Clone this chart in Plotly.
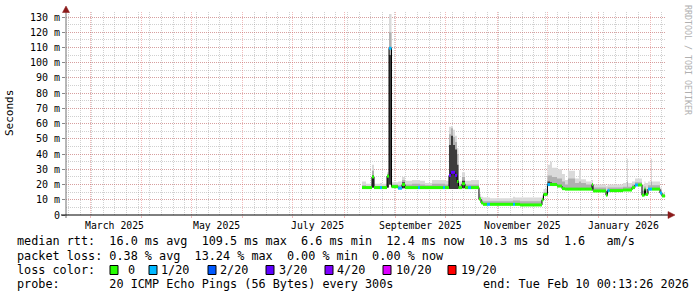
import plotly.graph_objects as go

# ---------------- data ----------------
dates = [
    "2025-08-11 16:00", "2025-08-14 01:00", "2025-08-17 16:00", "2025-08-18 21:00",
    "2025-08-22 12:00", "2025-08-23 17:00", "2025-08-26 17:00", "2025-08-27 22:00",
    "2025-08-29 10:00", "2025-09-02 08:00", "2025-09-04 18:00", "2025-09-06 13:00",
    "2025-09-10 18:00", "2025-09-14 08:00", "2025-09-15 13:00", "2025-09-18 13:00",
    "2025-09-22 19:00", "2025-09-29 09:00", "2025-09-30 14:00", "2025-10-03 00:00",
    "2025-10-04 05:00", "2025-10-05 10:00", "2025-10-06 15:00", "2025-10-07 20:00",
    "2025-10-08 17:00", "2025-10-10 20:00", "2025-10-12 15:00", "2025-10-14 11:00",
    "2025-10-16 06:00", "2025-10-21 01:00", "2025-10-22 06:00", "2025-10-23 11:00",
    "2025-10-25 21:00", "2025-10-27 16:00", "2025-11-10 12:00", "2025-11-11 17:00",
    "2025-11-14 17:00", "2025-11-27 23:00", "2025-11-28 21:00", "2025-12-01 06:00",
    "2025-12-02 19:00", "2025-12-03 23:00", "2025-12-07 00:00", "2025-12-10 00:00",
    "2025-12-11 19:00", "2025-12-13 14:00", "2025-12-17 20:00", "2025-12-20 05:00",
    "2025-12-21 10:00", "2025-12-24 10:00", "2025-12-28 01:00", "2025-12-28 16:00",
    "2026-01-05 11:00", "2026-01-06 09:00", "2026-01-07 14:00", "2026-01-15 17:00",
    "2026-01-18 02:00", "2026-01-18 17:00", "2026-01-21 03:00", "2026-01-22 22:00",
    "2026-01-24 17:00", "2026-01-27 03:00", "2026-01-28 15:00", "2026-01-29 06:00",
    "2026-01-30 18:00", "2026-02-01 13:00", "2026-02-02 04:00", "2026-02-06 23:00",
    "2026-02-08 04:00", "2026-02-10 00:13",
]
median_ms = [
    18.0, 18.0, 25.0, 18.0, 18.0, 18.0, 25.5, 109.5,
    18.6, 17.6, 20.0, 18.0, 18.0, 18.0, 18.0, 18.0,
    18.0, 18.0, 18.0, 26.0, 28.0, 28.0, 26.0, 22.0,
    18.0, 20.5, 18.0, 18.0, 18.0, 10.5, 8.0, 7.0,
    7.0, 7.0, 7.0, 7.0, 6.6, 10.0, 13.5, 20.0,
    20.0, 20.0, 19.0, 17.3, 17.0, 17.0, 17.0, 17.0,
    17.0, 17.0, 20.0, 15.8, 13.0, 16.0, 16.0, 16.4,
    16.4, 16.4, 18.0, 19.7, 19.7, 13.0, 17.0, 13.5,
    17.0, 17.0, 17.0, 14.4, 12.5, 12.4,
]
loss_idx = [
    0, 0, 0, 0, 1, 0, 0, 1,
    0, 1, 0, 0, 0, 1, 0, 0,
    0, 1, 0, 3, 3, 3, 3, 0,
    0, 0, 0, 1, 0, 0, 0, 0,
    1, 0, 1, 0, 0, 0, 0, 1,
    0, 0, 0, 0, 0, 0, 0, 0,
    0, 0, 0, 0, 0, 1, 0, 0,
    0, 0, 0, 1, 0, 0, 0, 0,
    1, 1, 0, 1, 0, 0,
]
smoke_lo = [
    17.5, 17.5, 18.0, 17.5, 17.5, 17.5, 18.0, 20.0,
    18.0, 17.0, 17.5, 17.5, 17.5, 17.5, 17.5, 17.5,
    17.5, 17.5, 17.5, 17.0, 17.0, 17.0, 17.0, 17.0,
    17.5, 17.5, 17.5, 17.5, 17.5, 10.0, 7.5, 6.5,
    6.5, 6.5, 6.5, 6.5, 6.2, 9.5, 13.0, 19.5,
    19.5, 19.5, 18.5, 17.0, 16.5, 16.5, 16.5, 16.5,
    16.5, 16.5, 16.5, 15.3, 12.5, 15.5, 15.5, 16.0,
    16.0, 16.0, 17.5, 19.2, 19.2, 12.5, 16.5, 13.0,
    16.5, 16.5, 16.5, 14.0, 12.0, 12.0,
]
smoke_dark = [
    17.5, 17.5, 26.0, 17.5, 17.5, 17.5, 26.0, 105.0,
    18.0, 17.0, 21.5, 17.5, 17.5, 17.5, 17.5, 17.5,
    17.5, 17.5, 17.5, 46.0, 52.0, 46.0, 43.0, 33.0,
    17.5, 22.5, 17.5, 17.5, 17.5, 10.0, 7.5, 6.5,
    6.5, 6.5, 6.5, 6.5, 6.2, 9.5, 13.0, 22.0,
    21.5, 21.0, 18.5, 17.0, 16.5, 16.5, 16.5, 16.5,
    16.5, 16.5, 16.5, 15.3, 12.5, 15.5, 15.5, 16.0,
    16.0, 16.0, 17.5, 19.2, 19.2, 12.5, 16.5, 13.0,
    16.5, 16.5, 16.5, 14.0, 12.0, 12.0,
]
smoke_mid = [
    19.5, 19.0, 29.0, 19.0, 19.0, 19.0, 27.0, 120.0,
    20.0, 19.5, 23.0, 20.0, 20.5, 20.5, 20.0, 19.5,
    20.5, 20.5, 20.0, 53.0, 57.0, 51.0, 48.0, 40.0,
    20.0, 25.0, 20.0, 20.0, 20.0, 12.0, 10.0, 9.0,
    9.0, 9.0, 9.5, 9.5, 9.0, 11.5, 15.0, 26.0,
    26.0, 25.0, 24.0, 22.0, 20.0, 24.0, 21.0, 22.0,
    21.0, 20.0, 21.0, 18.0, 16.0, 18.0, 18.0, 18.5,
    22.0, 18.5, 20.0, 21.5, 21.5, 16.0, 19.0, 17.0,
    19.5, 22.0, 19.5, 16.5, 13.5, 13.5,
]
smoke_hi = [
    22.0, 20.5, 33.0, 20.5, 21.0, 20.5, 28.0, 132.0,
    21.5, 22.0, 25.0, 22.5, 23.0, 23.0, 22.5, 21.0,
    23.0, 23.0, 22.5, 58.0, 58.5, 56.0, 52.0, 44.0,
    22.0, 28.0, 22.5, 22.5, 23.0, 14.0, 12.0, 11.5,
    11.5, 11.0, 12.0, 11.5, 11.5, 13.0, 17.0, 33.0,
    35.0, 31.0, 30.0, 27.0, 23.0, 29.0, 24.0, 29.5,
    23.5, 22.0, 23.0, 20.0, 19.0, 20.0, 20.0, 21.0,
    37.0, 21.0, 22.0, 24.0, 24.0, 20.0, 22.0, 21.0,
    22.0, 37.0, 22.0, 18.0, 14.5, 14.5,
]

y_tick_vals = [0, 10, 20, 30, 40, 50, 60, 70, 80, 90, 100, 110, 120, 130]
y_tick_text = ["0", "10 m", "20 m", "30 m", "40 m", "50 m", "60 m", "70 m",
               "80 m", "90 m", "100 m", "110 m", "120 m", "130 m"]
month_label_dates = ["2025-03-16", "2025-05-16", "2025-07-16",
                     "2025-09-16", "2025-11-16", "2026-01-16"]
month_label_text = ["March 2025", "May 2025", "July 2025",
                    "September 2025", "November 2025", "January 2026"]
loss_colors = ["#26ff00", "#00b8ff", "#0059ff", "#5e00ff", "#7e00ff", "#dd00ff", "#ff0000"]
loss_labels = ["0", "1/20", "2/20", "3/20", "4/20", "10/20", "19/20"]

stats_rtt = "median rtt:  16.0 ms avg  109.5 ms max  6.6 ms min  12.4 ms now  10.3 ms sd  1.6   am/s"
stats_loss = "packet loss: 0.38 % avg  13.24 % max  0.00 % min  0.00 % now"
probe_text = "probe:       20 ICMP Echo Pings (56 Bytes) every 300s"
end_text = "end: Tue Feb 10 00:13:26 2026"

# ---------------- layout geometry ----------------
W, H = 697, 297
L, R, T, B = 66, 666, 12, 215
MONO = "DejaVu Sans Mono"


def px(p):
    return (p - L) / (R - L)


def py(p):
    return (B - p) / (B - T)


def nb(s):
    return s.replace(" ", "\u00a0")


fig = go.Figure()

# smoke bands
for top, color in [(smoke_hi, "#dadada"), (smoke_mid, "#b0b0b0"), (smoke_dark, "#3c3c3c")]:
    fig.add_trace(go.Scatter(x=dates, y=smoke_lo, mode="lines",
                             line=dict(width=0, shape="hv"), hoverinfo="skip", showlegend=False))
    fig.add_trace(go.Scatter(x=dates, y=top, mode="lines", fill="tonexty", fillcolor=color,
                             line=dict(width=0, shape="hv"), hoverinfo="skip", showlegend=False))

# black median (vertical transitions)
fig.add_trace(go.Scatter(x=dates, y=median_ms, mode="lines",
                         line=dict(color="#000000", width=1, shape="hv"),
                         hoverinfo="skip", showlegend=False))

# loss-coloured median segments
for k, col in enumerate(loss_colors):
    xs, ys = [], []
    for i in range(len(dates) - 1):
        if loss_idx[i] == k:
            xs += [dates[i], dates[i + 1], None]
            ys += [median_ms[i], median_ms[i], None]
    if xs:
        fig.add_trace(go.Scatter(x=xs, y=ys, mode="lines",
                                 line=dict(color=col, width=3),
                                 hoverinfo="skip", showlegend=False))

red_grid = "rgba(225,90,90,0.42)"
grey_grid = "rgba(150,150,150,0.45)"

fig.update_layout(
    width=W, height=H,
    margin=dict(l=L, r=W - R, t=T, b=H - B),
    paper_bgcolor="#ffffff", plot_bgcolor="#ffffff",
    showlegend=False,
    font=dict(family=MONO, size=10, color="#000000"),
    xaxis=dict(
        type="date",
        range=["2025-02-14 13:00", "2026-02-10 14:00"],
        showticklabels=False,
        tick0="2025-03-01", dtick="M1",
        ticks="outside", ticklen=2, tickcolor=red_grid,
        showgrid=True, gridcolor=red_grid, griddash="1px,1px", gridwidth=1,
        minor=dict(dtick=7 * 86400000, tick0="2025-02-23", showgrid=True,
                   gridcolor=grey_grid, griddash="1px,1px", gridwidth=1),
        showline=False, zeroline=False, fixedrange=True,
    ),
    yaxis=dict(
        range=[0, 133.3],
        tickmode="array", tickvals=y_tick_vals, ticktext=y_tick_text,
        ticks="outside", ticklen=3, tickcolor="#888888",
        tickfont=dict(family=MONO, size=10, color="#000000"),
        showgrid=True, gridcolor=red_grid, griddash="1px,1px", gridwidth=1,
        minor=dict(dtick=5, tick0=0, showgrid=True, gridcolor=grey_grid,
                   griddash="1px,1px", gridwidth=1),
        showline=False, zeroline=False, fixedrange=True,
    ),
)

shapes = [
    # axis lines
    dict(type="line", xref="paper", yref="paper", x0=px(66), x1=px(66), y0=py(218), y1=py(10),
         line=dict(color="#707070", width=1), layer="above"),
    dict(type="line", xref="paper", yref="paper", x0=px(61), x1=px(669), y0=py(215), y1=py(215),
         line=dict(color="#000000", width=1), layer="above"),
    # arrows
    dict(type="path", xref="paper", yref="paper",
         path=f"M {px(66)} {py(6)} L {px(62.5)} {py(12.5)} L {px(69.5)} {py(12.5)} Z",
         fillcolor="#8b1a1a", line=dict(color="#8b1a1a", width=0.5), layer="above"),
    dict(type="path", xref="paper", yref="paper",
         path=f"M {px(675)} {py(215)} L {px(668)} {py(211.5)} L {px(668)} {py(218.5)} Z",
         fillcolor="#8b1a1a", line=dict(color="#8b1a1a", width=0.5), layer="above"),
]

annotations = []
# month labels
for d, t in zip(month_label_dates, month_label_text):
    annotations.append(dict(x=d, xref="x", y=py(225), yref="paper", text=nb(t),
                            showarrow=False, xanchor="center", yanchor="middle",
                            font=dict(family=MONO, size=9.8, color="#000000")))
# y title
annotations.append(dict(x=px(10), xref="paper", y=py(113), yref="paper", text="Seconds",
                        textangle=-90, showarrow=False, xanchor="center", yanchor="middle",
                        font=dict(family=MONO, size=11, color="#000000")))
# rrdtool watermark
annotations.append(dict(x=px(688), xref="paper", y=py(60), yref="paper",
                        text=nb("RRDTOOL / TOBI OETIKER"), textangle=90, showarrow=False,
                        xanchor="center", yanchor="middle",
                        font=dict(family=MONO, size=8.3, color="#b0b0b0")))

LEG = 11.8
for ypix, txt in [(241, stats_rtt), (256, stats_loss), (270, "loss color:"), (284, probe_text)]:
    annotations.append(dict(x=px(15), xref="paper", y=py(ypix), yref="paper", text=nb(txt),
                            showarrow=False, xanchor="left", yanchor="middle",
                            font=dict(family=MONO, size=LEG, color="#000000")))
annotations.append(dict(x=px(691), xref="paper", y=py(284), yref="paper", text=nb(end_text),
                        showarrow=False, xanchor="right", yanchor="middle",
                        font=dict(family=MONO, size=LEG, color="#000000")))

box_x = [110, 149, 208, 266, 325, 383, 448]
lab_x = [126, 159, 218, 277, 335, 394, 459]
for bx, lx, col, lab in zip(box_x, lab_x, loss_colors, loss_labels):
    shapes.append(dict(type="rect", xref="paper", yref="paper",
                       x0=px(bx), x1=px(bx + 8), y0=py(274.5), y1=py(265.5),
                       fillcolor=col, line=dict(color="#000000", width=1), layer="above"))
    annotations.append(dict(x=px(lx), xref="paper", y=py(270), yref="paper", text=lab,
                            showarrow=False, xanchor="left", yanchor="middle",
                            font=dict(family=MONO, size=LEG, color="#000000")))

fig.update_layout(shapes=shapes, annotations=annotations)

fig.write_html("out.html")
